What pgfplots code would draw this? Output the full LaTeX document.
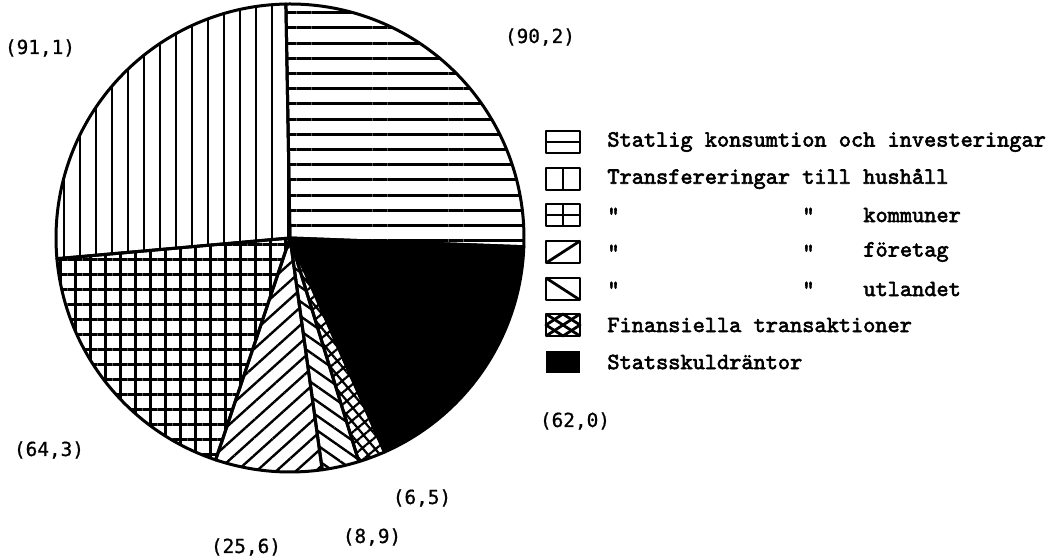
\documentclass[border=0pt]{standalone}
\usepackage{fontspec}
\newfontfamily\legfont{lmmono10-regular.otf}[FakeBold=2.6]
\newfontfamily\lblfont{DejaVu Sans Mono}[FakeBold=0.8]
\usepackage{pgfplots}
\pgfplotsset{compat=1.18}
\usetikzlibrary{patterns.meta}
% data (values from the chart)
\def\vA{90.2}% Statlig konsumtion och investeringar
\def\vB{62.0}% Statsskuldraentor
\def\vC{6.5}%  Finansiella transaktioner
\def\vD{8.9}%  utlandet
\def\vE{25.6}% foeretag
\def\vF{64.3}% kommuner
\def\vG{91.1}% hushaall
\pgfmathsetmacro\tot{\vA+\vB+\vC+\vD+\vE+\vF+\vG}
\pgfmathsetmacro\k{360/\tot}
\pgfmathsetmacro\aA{91}
\pgfmathsetmacro\aB{\aA-\k*\vA}
\pgfmathsetmacro\aC{\aB-\k*\vB}
\pgfmathsetmacro\aD{\aC-\k*\vC}
\pgfmathsetmacro\aE{\aD-\k*\vD}
\pgfmathsetmacro\aF{\aE-\k*\vE}
\pgfmathsetmacro\aG{\aF-\k*\vF}
\pgfmathsetmacro\aH{\aG-\k*\vG}
\def\R{117pt}
\newcommand\sector[3]{%
  \draw[line width=1.5pt, line join=round, #3] (axis cs:290,238) -- ++(#1:\R) arc[start angle=#1, end angle=#2, radius=\R] -- cycle;}
\begin{document}
\begin{tikzpicture}
\path[use as bounding box] (0,0) rectangle (523pt,280pt);
\begin{axis}[at={(0,0)}, anchor=south west, scale only axis, width=523pt, height=280pt,
  xmin=0, xmax=1046, ymin=0, ymax=560, y dir=reverse, hide axis, clip=false]
\addplot[draw=none] coordinates {(0,0) (1046,560)};
\sector{\aA}{\aB}{pattern={Lines[angle=0,distance=7.6pt,line width=1.5pt]}}
\sector{\aB}{\aC}{fill=black}
\sector{\aC}{\aD}{pattern={Hatch[angle=40,distance=4.6pt,line width=1.1pt]}}
\sector{\aD}{\aE}{pattern={Lines[angle=-35,distance=6pt,line width=1.2pt]}}
\sector{\aE}{\aF}{pattern={Lines[angle=42,distance=6.6pt,line width=1.2pt]}}
\sector{\aF}{\aG}{pattern={Hatch[angle=0,distance=7.5pt,line width=1.5pt]}}
\sector{\aG}{\aH}{pattern={Lines[angle=90,distance=8pt,line width=1.4pt]}}
% legend symbols
\begin{scope}[line width=1.4pt, line join=round]
\draw (axis cs:546,131) rectangle (axis cs:580,153); \draw (axis cs:546,142) -- (axis cs:580,142);
\draw (axis cs:546,168) rectangle (axis cs:580,190); \draw (axis cs:563,168) -- (axis cs:563,190);
\draw (axis cs:546,204) rectangle (axis cs:580,226); \draw (axis cs:546,215) -- (axis cs:580,215); \draw (axis cs:563,204) -- (axis cs:563,226);
\draw (axis cs:546,241) rectangle (axis cs:580,263); \draw (axis cs:546,263) -- (axis cs:580,241);
\draw (axis cs:546,278) rectangle (axis cs:580,300); \draw (axis cs:546,278) -- (axis cs:580,300);
\draw (axis cs:546,314) rectangle (axis cs:580,336); \draw (axis cs:546,314) -- (axis cs:580,336); \draw (axis cs:546,336) -- (axis cs:580,314);
\draw (axis cs:563,314) -- (axis cs:580,325) -- (axis cs:563,336) -- (axis cs:546,325) -- cycle;
\fill (axis cs:546,351) rectangle (axis cs:580,373);
\end{scope}
\begin{scope}[every node/.style={inner sep=0pt, anchor=west, font=\legfont\fontsize{11.6}{13}\selectfont}]
\node at (axis cs:607,142) {Statlig konsumtion och investeringar};
\node at (axis cs:607,179) {Transfereringar till hushåll};
\node at (axis cs:607,215) {"}; \node at (axis cs:802,215) {"}; \node at (axis cs:863,215) {kommuner};
\node at (axis cs:607,252) {"}; \node at (axis cs:802,252) {"}; \node at (axis cs:863,252) {företag};
\node at (axis cs:607,289) {"}; \node at (axis cs:802,289) {"}; \node at (axis cs:863,289) {utlandet};
\node at (axis cs:607,325) {Finansiella transaktioner};
\node at (axis cs:607,362) {Statsskuldräntor};
\end{scope}
\begin{scope}[every node/.style={inner sep=0pt, font=\lblfont\fontsize{9.7}{12}\selectfont}]
\node at (axis cs:540,37) {(90,2)};
\node at (axis cs:40,48) {(91,1)};
\node at (axis cs:575,421) {(62,0)};
\node at (axis cs:49,450) {(64,3)};
\node at (axis cs:422,498) {(6,5)};
\node at (axis cs:372,537) {(8,9)};
\node at (axis cs:246,547) {(25,6)};
\end{scope}
\end{axis}
\end{tikzpicture}
\end{document}
